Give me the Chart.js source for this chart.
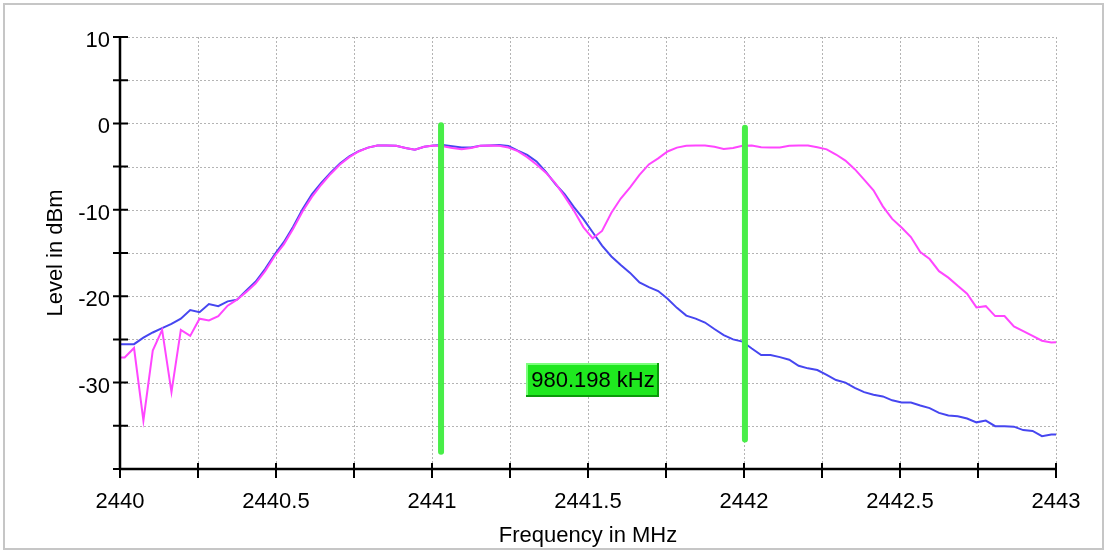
<!DOCTYPE html>
<html>
<head>
<meta charset="utf-8">
<title>Spectrum</title>
<script src="https://cdn.jsdelivr.net/npm/chart.js@4.4.1/dist/chart.umd.min.js"></script>
<style>
  html, body { margin: 0; padding: 0; background: #fff; }
  #wrap { position: relative; width: 1105px; height: 551px; overflow: hidden; }
  #wrap canvas { position: absolute; left: 0; top: 0; }
  #frame { position: absolute; left: 3px; top: 3px; width: 1097px; height: 543px;
           border: 2px solid #c6c6c6; pointer-events: none; }
</style>
</head>
<body>
<div id="wrap">
  <canvas id="spectrum" width="1105" height="551"></canvas>
  <div id="frame"></div>
</div>
<script>
// sweep grid (MHz)
const sweepStart = 2439.985;
const sweepStep = 0.03;

// trace levels in dBm, one value per sweep point
const levelBlue = [
  -25.6, -25.55, -25.55, -24.8, -24.2, -23.7, -23.2, -22.6, -21.6, -21.85,
  -20.9, -21.15, -20.6, -20.4, -19.35, -18.3, -16.85, -15.2, -13.75, -11.95,
  -9.95, -8.2, -6.9, -5.7, -4.65, -3.8, -3.2, -2.8, -2.55, -2.55,
  -2.6, -2.85, -3.05, -2.7, -2.55, -2.5, -2.65, -2.8, -2.8, -2.6,
  -2.55, -2.5, -2.6, -3.15, -3.65, -4.4, -5.6, -7.0, -8.2, -9.7,
  -11.05, -12.6, -14.15, -15.4, -16.4, -17.3, -18.4, -18.95, -19.4, -20.3,
  -21.35, -22.25, -22.6, -23.05, -23.8, -24.5, -25.0, -25.25, -26.05, -26.8,
  -26.8, -27.05, -27.35, -28.05, -28.35, -28.55, -29.1, -29.7, -30.0, -30.6,
  -31.1, -31.4, -31.6, -32.05, -32.3, -32.3, -32.65, -32.95, -33.5, -33.8,
  -33.9, -34.15, -34.6, -34.4, -35.05, -35.05, -35.1, -35.5, -35.6, -36.2,
  -36.0, -36.0
];
const levelMagenta = [
  -27.1, -27.1, -26.0, -34.4, -26.3, -23.9, -31.1, -23.9, -24.6, -22.6,
  -22.8, -22.3, -21.1, -20.4, -19.5, -18.5, -17.1, -15.4, -14.0, -12.2,
  -10.2, -8.5, -7.1, -5.85, -4.75, -3.9, -3.25, -2.8, -2.55, -2.55,
  -2.6, -2.85, -3.05, -2.7, -2.55, -2.65, -2.85, -3.0, -2.85, -2.6,
  -2.55, -2.6, -2.8, -3.2, -3.9, -4.75, -5.7, -6.9, -8.45, -10.1,
  -12.0, -13.3, -12.45, -10.35, -8.7, -7.4, -5.95, -4.75, -4.05, -3.25,
  -2.8, -2.6, -2.55, -2.55, -2.7, -2.95, -2.85, -2.6, -2.55, -2.75,
  -2.8, -2.8, -2.6, -2.55, -2.55, -2.75, -3.0, -3.6, -4.3, -5.3,
  -6.5, -7.75, -9.6, -11.05, -12.05, -13.15, -14.9, -15.7, -17.1, -17.85,
  -18.8, -19.7, -21.3, -21.15, -22.3, -22.3, -23.5, -24.05, -24.6, -25.15,
  -25.35, -25.3
];

// markers
const markerFreq = [2441.029, 2442.003];
const markerTop = [-0.2, -0.5];
const markerBottom = [-38.0, -36.6];
const markerText = '980.198 kHz';
const markerTextLevel = -29.65;

// axes
const freqMin = 2440, freqMax = 2443, freqStep = 0.25;
const levelMin = -40, levelMax = 10, levelStep = 5;

const freqs = levelBlue.map((_, i) => +(sweepStart + i * sweepStep).toFixed(3));
const toPoints = arr => arr.map((v, i) => ({ x: freqs[i], y: v }));

const FONT = '"Liberation Sans", Arial, sans-serif';

// dotted grid underneath, solid axes with crossing ticks on top
const axesPlugin = {
  id: 'axes',
  beforeDatasetsDraw(chart) {
    const { ctx, chartArea: a, scales: { x, y } } = chart;
    ctx.save();
    ctx.strokeStyle = '#b4b4b4';
    ctx.lineWidth = 1;
    ctx.setLineDash([2, 2]);
    ctx.beginPath();
    y.ticks.forEach(t => {
      if (t.value === levelMin) return;
      const py = Math.round(y.getPixelForValue(t.value)) + 0.5;
      ctx.moveTo(a.left, py); ctx.lineTo(a.right, py);
    });
    x.ticks.forEach(t => {
      if (t.value === freqMin) return;
      const px = Math.round(x.getPixelForValue(t.value)) + 0.5;
      ctx.moveTo(px, a.top); ctx.lineTo(px, a.bottom);
    });
    ctx.stroke();
    ctx.restore();
  },
  afterDatasetsDraw(chart) {
    const { ctx, chartArea: a, scales: { x, y } } = chart;
    ctx.save();
    ctx.strokeStyle = '#000';
    ctx.lineWidth = 2.5;
    ctx.beginPath();
    ctx.moveTo(a.left, a.top); ctx.lineTo(a.left, a.bottom);
    ctx.moveTo(a.left, a.bottom); ctx.lineTo(a.right, a.bottom);
    ctx.stroke();
    ctx.lineWidth = 2;
    ctx.beginPath();
    y.ticks.forEach(t => {
      const py = y.getPixelForValue(t.value);
      ctx.moveTo(a.left - 7, py); ctx.lineTo(a.left + 8, py);
    });
    x.ticks.forEach(t => {
      const px = x.getPixelForValue(t.value);
      ctx.moveTo(px, a.bottom - 6); ctx.lineTo(px, a.bottom + 9);
    });
    ctx.stroke();
    ctx.restore();
  }
};

// delta label between the two markers
const deltaPlugin = {
  id: 'delta',
  afterDraw(chart) {
    const { ctx, scales: { x, y } } = chart;
    const cx = (x.getPixelForValue(markerFreq[0]) + x.getPixelForValue(markerFreq[1])) / 2;
    const cy = y.getPixelForValue(markerTextLevel);
    ctx.save();
    ctx.font = '22px ' + FONT;
    const w = Math.round(ctx.measureText(markerText).width + 9);
    const h = 34;
    const l = Math.round(cx - w / 2), t = Math.round(cy - h / 2);
    ctx.fillStyle = '#1fe81f';
    ctx.fillRect(l, t, w, h);
    ctx.fillStyle = '#7dff7d';
    ctx.fillRect(l, t, w, 2);
    ctx.fillRect(l, t, 2, h);
    ctx.fillStyle = '#0a9a0a';
    ctx.fillRect(l, t + h - 2, w, 2);
    ctx.fillRect(l + w - 2, t, 2, h);
    ctx.fillStyle = '#000';
    ctx.textAlign = 'center';
    ctx.textBaseline = 'middle';
    ctx.fillText(markerText, cx, cy + 1);
    ctx.restore();
  }
};

const markerSets = markerFreq.map((f, i) => ({
  data: [{ x: f, y: markerTop[i] }, { x: f, y: markerBottom[i] }],
  borderColor: '#48ee48',
  borderWidth: 6,
  borderCapStyle: 'round',
  pointRadius: 0,
  order: 0
}));

new Chart(document.getElementById('spectrum'), {
  type: 'line',
  data: {
    datasets: [
      {
        label: 'Trace 2',
        data: toPoints(levelMagenta),
        borderColor: '#ff46ff',
        borderWidth: 2,
        pointRadius: 0,
        order: 1
      },
      {
        label: 'Trace 1',
        data: toPoints(levelBlue),
        borderColor: '#4646f0',
        borderWidth: 2,
        pointRadius: 0,
        order: 2
      },
      ...markerSets
    ]
  },
  options: {
    responsive: false,
    animation: false,
    events: [],
    layout: { padding: { top: 37, right: 49, left: 0, bottom: 0 } },
    elements: { line: { tension: 0 } },
    plugins: { legend: { display: false }, tooltip: { enabled: false } },
    scales: {
      x: {
        type: 'linear',
        min: freqMin,
        max: freqMax,
        afterFit(s) { s.height = 82; },
        grid: { display: false, drawTicks: false },
        border: { display: false },
        ticks: {
          stepSize: freqStep,
          autoSkip: false,
          maxRotation: 0,
          padding: 20,
          color: '#000',
          font: { family: FONT, size: 22 },
          callback: v => Math.abs(v * 2 - Math.round(v * 2)) < 1e-6 ? String(Math.round(v * 2) / 2) : ''
        },
        title: {
          display: true,
          text: 'Frequency in MHz',
          color: '#000',
          font: { family: FONT, size: 22 },
          padding: { top: 0, bottom: 2 }
        }
      },
      y: {
        type: 'linear',
        min: levelMin,
        max: levelMax,
        afterFit(s) { s.width = 120; },
        grid: { display: false, drawTicks: false },
        border: { display: false },
        ticks: {
          stepSize: levelStep,
          autoSkip: false,
          padding: 10,
          labelOffset: 4,
          color: '#000',
          font: { family: FONT, size: 22 },
          callback: v => (v % 10 === 0 && v > levelMin) ? String(v) : ''
        },
        title: {
          display: true,
          text: 'Level in dBm',
          color: '#000',
          font: { family: FONT, size: 22 },
          padding: { top: 43, bottom: 0 }
        }
      }
    }
  },
  plugins: [axesPlugin, deltaPlugin]
});
</script>
</body>
</html>
